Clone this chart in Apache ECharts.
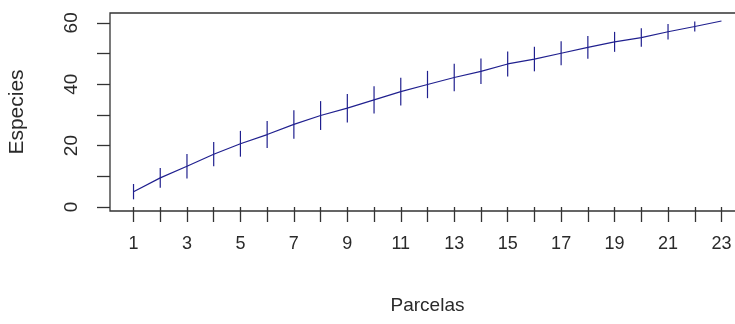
<!DOCTYPE html>
<html>
<head>
<meta charset="utf-8">
<script src="https://cdn.jsdelivr.net/npm/echarts@6/dist/echarts.min.js"></script>
<style>
  html, body { margin: 0; padding: 0; background: #fff; }
  #chart { width: 735px; height: 324px; }
</style>
</head>
<body>
<div id="chart"></div>
<script>
// Species accumulation curve: mean richness with ±1 SD bars per number of plots
const sites = [1, 2, 3, 4, 5, 6, 7, 8, 9, 10, 11, 12, 13, 14, 15, 16, 17, 18, 19, 20, 21, 22, 23];
const richness = [5.0, 9.5, 13.3, 17.2, 20.6, 23.6, 26.9, 29.8, 32.2, 34.9, 37.6, 39.9,
                  42.2, 44.2, 46.6, 48.2, 50.1, 52.0, 53.8, 55.2, 57.1, 58.8, 60.6];
const sd = [2.5, 3.2, 4.0, 3.95, 4.2, 4.4, 4.65, 4.7, 4.65, 4.45, 4.5, 4.45,
            4.45, 4.15, 4.05, 4.0, 3.9, 3.7, 3.25, 3.0, 2.5, 1.65, 0];
const xTicks = [1, 2, 3, 4, 5, 6, 7, 8, 9, 10, 11, 12, 13, 14, 15, 16, 17, 18, 19, 20, 21, 22, 23];
const xTickLabels = [1, 3, 5, 7, 9, 11, 13, 15, 17, 19, 21, 23];
const yTicks = [0, 10, 20, 30, 40, 50, 60];
const yTickLabels = [0, 20, 40, 60];

const curveColor = '#20208f';
const inkColor = '#2a2a2a';
const font = "'Liberation Sans', Arial, sans-serif";

const chart = echarts.init(document.getElementById('chart'), null, { renderer: 'canvas' });

chart.setOption({
  animation: false,
  backgroundColor: '#ffffff',
  grid: {
    left: 110, top: 13, width: 635, height: 198,
    outerBoundsMode: 'none',
    containLabel: false,
    show: true, borderColor: '#333333', borderWidth: 1.3, backgroundColor: 'transparent'
  },
  xAxis: {
    type: 'value',
    min: 0.12, max: 23.88,
    name: 'Parcelas',
    nameLocation: 'middle',
    nameGap: 85,
    nameTextStyle: { fontFamily: font, fontSize: 19, color: inkColor },
    axisLine: { show: false },
    splitLine: { show: false },
    axisTick: { show: true, length: 15, customValues: xTicks, lineStyle: { color: '#333333', width: 1.3 } },
    axisLabel: { customValues: xTickLabels, margin: 24, fontFamily: font, fontSize: 18, color: inkColor }
  },
  yAxis: {
    type: 'value',
    min: -1.3, max: 63.2,
    name: 'Especies',
    nameLocation: 'middle',
    nameGap: 82,
    nameRotate: 90,
    nameTextStyle: { fontFamily: font, fontSize: 21, color: inkColor },
    axisLine: { show: false },
    splitLine: { show: false },
    axisTick: { show: true, length: 13, customValues: yTicks, lineStyle: { color: '#333333', width: 1.3 } },
    axisLabel: { customValues: yTickLabels, rotate: 90, margin: 29, fontFamily: font, fontSize: 19, color: inkColor }
  },
  series: [
    {
      type: 'line',
      data: sites.map((s, i) => [s, richness[i]]),
      showSymbol: false,
      lineStyle: { color: curveColor, width: 1.2 },
      z: 3
    },
    {
      type: 'custom',
      data: sites.map((s, i) => [s, richness[i] - sd[i], richness[i] + sd[i]]),
      renderItem: function (params, api) {
        const lo = api.coord([api.value(0), api.value(1)]);
        const hi = api.coord([api.value(0), api.value(2)]);
        return {
          type: 'line',
          shape: { x1: lo[0], y1: lo[1], x2: hi[0], y2: hi[1] },
          style: { stroke: curveColor, lineWidth: 1.2 }
        };
      },
      z: 4
    }
  ]
});
</script>
</body>
</html>
